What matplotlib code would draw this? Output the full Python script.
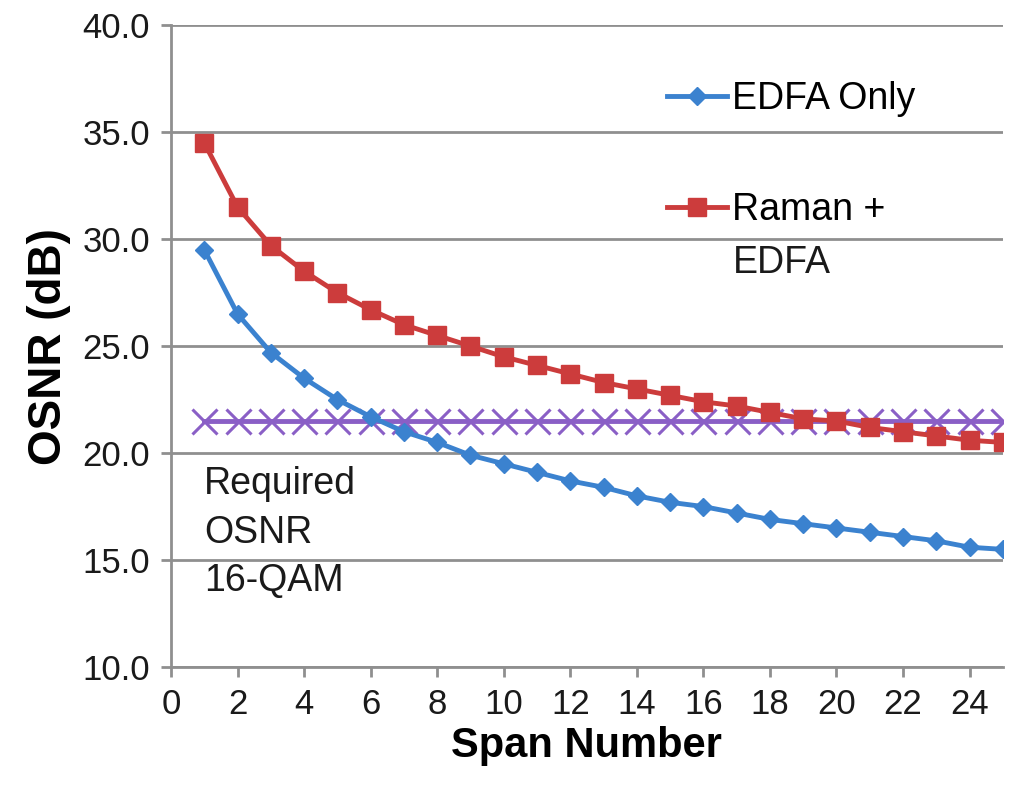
import matplotlib
matplotlib.use("Agg")
import matplotlib.pyplot as plt

plt.rcParams['font.family'] = ['Liberation Sans', 'DejaVu Sans']

spans = list(range(1, 26))
edfa_only = [29.5, 26.5, 24.7, 23.5, 22.5, 21.7, 21.0, 20.5, 19.9, 19.5,
             19.1, 18.7, 18.4, 18.0, 17.7, 17.5, 17.2, 16.9, 16.7, 16.5,
             16.3, 16.1, 15.9, 15.6, 15.5]
raman_edfa = [34.5, 31.5, 29.7, 28.5, 27.5, 26.7, 26.0, 25.5, 25.0, 24.5,
              24.1, 23.7, 23.3, 23.0, 22.7, 22.4, 22.2, 21.9, 21.6, 21.5,
              21.2, 21.0, 20.8, 20.6, 20.5]
required_osnr = [21.5] * 25

series_labels = ["EDFA Only", "Raman +\nEDFA"]
annotation = "Required\nOSNR\n16-QAM"
x_ticks = list(range(0, 25, 2))
y_ticks = [10, 15, 20, 25, 30, 35, 40]

blue = '#3b82cf'
red = '#cc3c3c'
purple = '#8a5fc6'
grid_c = '#8f8f8f'

W, H = 1015, 789
fig = plt.figure(figsize=(W / 100, H / 100), dpi=100)
ax = fig.add_axes([0.1685, 0.1546, 0.988 - 0.1685, 0.968 - 0.1546])

ax.plot(spans, required_osnr, color=purple, lw=3.5, marker='x', markersize=18,
        mew=2.2, zorder=3)
ax.plot(spans, raman_edfa, color=red, lw=3.5, marker='s', markersize=13,
        label=series_labels[1].split("\n")[0], zorder=4)
ax.plot(spans, edfa_only, color=blue, lw=3.5, marker='D', markersize=9,
        label=series_labels[0], zorder=5)

ax.set_xlim(0, 25)
ax.set_ylim(10, 40)
ax.set_xticks(x_ticks)
ax.set_yticks(y_ticks)
ax.set_yticklabels([f"{v:.1f}" for v in y_ticks])
ax.yaxis.grid(True, color=grid_c, lw=2)
ax.set_axisbelow(True)
for s in ['top', 'right']:
    ax.spines[s].set_visible(False)
for s in ['left', 'bottom']:
    ax.spines[s].set_color(grid_c)
    ax.spines[s].set_linewidth(2)
ax.tick_params(axis='both', colors=grid_c, width=2, length=7, labelsize=25,
               labelcolor='#1a1a1a')
ax.tick_params(axis='x', pad=8)
ax.tick_params(axis='y', pad=8)

ax.set_xlabel("Span Number", fontsize=30, fontweight='bold', labelpad=4)
ax.set_ylabel("OSNR (dB)", fontsize=33, fontweight='bold', labelpad=8)

ax.text(1.0, 19.4, annotation, fontsize=27, color='#1a1a1a', va='top',
        ha='left', linespacing=1.45)

handles, labels = ax.get_legend_handles_labels()
order = [1, 0]
leg = fig.legend([handles[i] for i in order], [labels[i] for i in order],
                 loc='upper left', bbox_to_anchor=(648 / W, 1 - 62 / H),
                 frameon=False, fontsize=27, handlelength=1.6,
                 handletextpad=0.15, labelspacing=2.0, borderpad=0)

fig.canvas.draw()
bb = leg.get_texts()[1].get_window_extent()
cy = (bb.y0 + bb.y1) / 2 - 53
fig.text(bb.x0 / W, cy / H, series_labels[1].split("\n")[1], fontsize=27,
         color='#1a1a1a', ha='left', va='center')

fig.savefig("out.png", dpi=100)
